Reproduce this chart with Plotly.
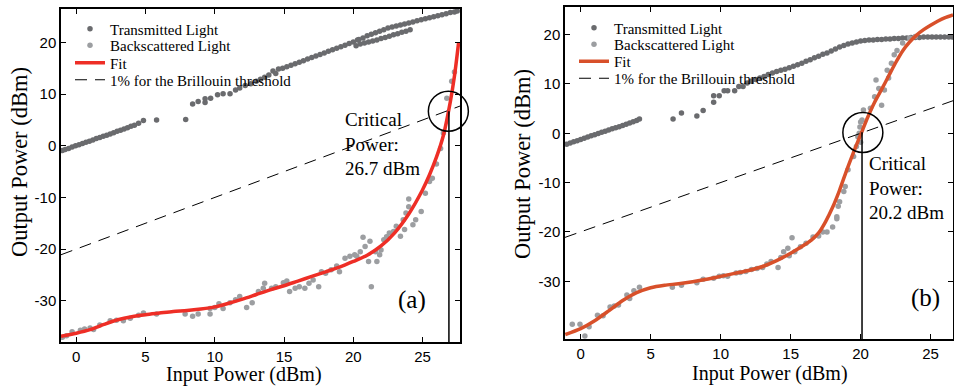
import plotly.graph_objects as go

# ---------------- Panel (a) data ----------------
trans_a_x = [-1.0,-0.8,-0.55,-0.3,-0.05,0.2,0.45,0.7,0.95,1.2,1.45,1.7,1.95,2.2,2.45,2.7,2.95,3.2,3.45,3.7,3.95,4.2,4.5,4.85,
             5.8,7.9,8.4,8.8,9.3,9.3,9.7,10.2,10.6,11.1,11.5,11.8,12.2,12.6,13.0,13.3,13.6,13.9,14.2,14.4,14.6,14.9,15.2,15.5,15.8,
             16.1,16.4,16.7,17.0,17.3,17.6,17.9,18.2,18.5,18.8,19.1,19.4,19.7,20.0,20.3,
             20.4,20.7,21.0,21.3,21.6,21.9,22.2,22.5,22.8,23.1,23.4,23.7,24.0,24.3,24.6,24.9,25.2,25.5,25.8,26.1,26.4,26.7,27.0,27.3,27.5,
             20.2,20.5,20.8,21.1,21.4,21.7,22.0,22.3,22.6,22.9,23.2,23.5,23.8,24.1]
trans_a_y = [-0.9,-0.7,-0.5,-0.25,0.0,0.2,0.45,0.7,0.9,1.15,1.4,1.6,1.85,2.05,2.3,2.55,2.8,3.0,3.25,3.5,3.8,4.0,4.35,4.9,
             5.0,5.1,8.1,8.6,8.4,9.1,9.2,9.9,10.1,10.1,10.8,11.2,11.7,12.0,12.5,12.9,13.3,13.7,14.5,14.0,14.9,15.0,15.3,15.6,15.9,
             16.2,16.5,16.8,17.1,17.4,17.7,18.0,18.3,18.6,18.9,19.2,19.5,19.8,20.1,20.5,
             20.6,20.9,21.3,21.6,21.9,22.2,22.5,22.8,23.0,23.2,23.4,23.6,23.8,24.0,24.2,24.4,24.6,24.8,25.0,25.2,25.4,25.6,25.8,25.9,26.1,
             19.4,19.7,19.9,20.1,20.3,20.5,20.8,21.0,21.2,21.5,21.7,22.0,22.2,22.5]

back_a_x = [-1.0,-0.7,-0.3,0.3,0.6,1.0,1.25,1.7,2.45,2.9,3.4,3.9,4.5,4.85,5.8,7.86,8.4,8.8,9.66,9.66,10.0,10.3,10.6,11.1,11.5,
            11.8,12.3,12.7,13.15,13.5,13.6,14.1,14.4,14.95,15.2,15.4,15.8,16.1,16.5,16.8,17.1,17.5,17.7,18.0,18.4,18.8,19.0,
            19.4,19.75,20.1,20.25,20.5,20.7,20.85,21.1,21.3,21.2,21.6,21.7,21.9,22.0,22.2,22.4,22.6,22.9,23.1,23.4,23.6,23.7,
            23.8,24.0,24.0,24.3,24.5,24.9,25.2,25.5,25.7,26.0,26.3,26.5,26.75,27.1,27.3]
back_a_y = [-37.1,-36.8,-36.0,-35.7,-35.5,-35.3,-35.6,-34.7,-33.9,-33.8,-33.9,-33.4,-32.8,-32.4,-32.6,-32.6,-33.0,-32.6,-32.6,-31.5,-31.3,-30.6,-31.5,-30.4,-29.8,
            -29.2,-31.3,-30.4,-28.2,-27.6,-26.6,-27.6,-27.3,-26.5,-26.2,-28.2,-27.6,-27.3,-27.6,-26.6,-26.0,-27.3,-24.4,-24.7,-24.0,-23.3,-24.4,
            -21.8,-21.4,-21.1,-21.4,-20.5,-17.7,-19.5,-22.4,-27.3,-18.5,-20.5,-22.4,-21.1,-20.2,-18.2,-17.6,-16.9,-16.6,-15.6,-17.5,-14.3,-16.2,
            -13.0,-11.8,-10.3,-15.3,-14.3,-12.7,-9.2,-6.9,-6.3,-3.5,-0.5,2.5,9.2,12.5,14.3]

fit_a_x = [-1.1,0,1,2,3,4,5,6,7,8,9,10,11,12,13,14,15,16,17,18,19,20,21,22,23,24,25,25.5,26,26.5,27,27.3,27.6]
fit_a_y = [-36.9,-36.3,-35.6,-34.6,-33.7,-33.1,-32.7,-32.4,-32.1,-31.9,-31.6,-31.2,-30.5,-29.7,-28.8,-27.9,-27.1,-26.2,-25.3,-24.4,-23.5,
           -22.4,-21.2,-19.4,-16.8,-13.2,-8.5,-5.6,-2.2,2.0,8.5,13.5,20.0]

thr_a_x = [-1.1, 27.7]
thr_a_y = [-21.1, 7.7]

crit_a_x = [26.9, 26.9]
crit_a_y = [6.7, -38.0]

# ---------------- Panel (b) data ----------------
trans_b_x = [-1.0,-0.75,-0.5,-0.25,0.0,0.25,0.5,0.75,1.0,1.25,1.5,1.75,2.0,2.25,2.5,2.75,3.0,3.25,3.5,3.75,4.0,4.2,
             6.6,7.2,8.3,8.75,9.5,9.5,9.9,10.25,10.5,11.0,11.3,11.6,11.9,12.2,12.5,12.8,13.1,13.4,13.7,14.0,14.3,14.6,14.9,15.2,
             15.5,15.8,16.1,16.4,16.7,17.0,17.3,17.6,17.9,18.2,18.5,18.8,19.1,19.4,19.7,20.0,20.3,20.6,20.9,21.2,21.5,21.8,
             22.1,22.4,22.7,23.0,23.3,23.6,23.9,24.2,24.5,24.8,25.1,25.4,25.7,26.0,26.3,26.55]
trans_b_y = [-2.2,-1.95,-1.7,-1.5,-1.25,-1.0,-0.75,-0.5,-0.3,-0.05,0.2,0.4,0.65,0.9,1.1,1.35,1.6,1.85,2.1,2.35,2.6,2.9,
             2.9,4.1,3.5,4.6,6.3,7.6,7.6,8.6,8.6,8.6,9.5,9.5,10.2,10.6,10.9,11.2,11.5,11.9,12.2,12.5,12.8,13.0,13.3,13.6,
             13.9,14.2,14.6,14.9,15.3,15.6,16.0,16.3,16.7,17.1,17.5,17.8,18.1,18.3,18.5,18.7,18.8,18.9,18.9,19.0,19.0,19.1,
             19.1,19.2,19.2,19.3,19.3,19.4,19.4,19.4,19.5,19.5,19.5,19.5,19.5,19.5,19.5,19.5]

back_b_x = [-0.6,-0.05,0.3,0.6,1.2,1.6,2.1,2.4,2.7,3.3,3.5,3.8,4.2,6.55,7.2,8.3,8.75,9.5,9.9,10.2,10.5,11.1,11.4,11.8,12.2,
            12.6,13.0,13.3,13.6,14.1,14.3,14.5,14.8,14.9,15.1,15.3,15.7,16.1,16.6,17.0,17.3,17.6,18.0,18.3,18.3,18.4,18.5,
            18.8,18.9,19.1,19.5,19.7,19.8,19.95,20.0,20.1,20.0,19.9,20.2,20.7,21.0,21.3,21.1,21.5,21.7,22.0,21.9,22.2,22.4,
            22.6,23.0,23.5,23.9]
back_b_y = [-38.7,-38.7,-41.1,-39.2,-36.9,-37.0,-35.2,-35.0,-34.8,-32.8,-33.5,-31.9,-31.2,-31.2,-30.8,-30.3,-29.6,-29.4,-29.0,-28.9,-29.0,-28.3,-28.2,-28.0,-27.6,
            -27.4,-27.2,-26.5,-26.0,-27.2,-25.2,-24.0,-23.3,-24.8,-21.2,-24.0,-23.0,-22.3,-21.0,-20.8,-20.0,-20.0,-19.0,-17.3,-16.9,-14.8,-13.9,
            -11.8,-10.8,-7.4,-4.7,-2.7,-0.7,1.3,2.3,2.7,-1.8,0.0,4.7,5.1,7.4,9.1,10.8,5.7,8.8,11.2,12.8,14.2,15.9,
            16.8,18.3,19.3,19.6]

fit_b_x = [-1.1,0,1,2,3,4,5,6,7,8,9,10,11,12,13,14,15,16,16.5,17,17.5,18,18.5,19,19.5,20,20.5,21,21.5,22,22.5,23,23.5,24,24.5,25,25.5,26,26.6]
fit_b_y = [-40.8,-39.6,-38.0,-36.0,-33.9,-32.3,-31.3,-30.8,-30.5,-30.1,-29.6,-29.0,-28.4,-27.8,-27.0,-25.8,-24.3,-22.6,-21.6,-20.2,-17.9,
           -15.0,-11.5,-7.5,-3.8,-0.3,3.2,6.3,8.9,11.6,14.3,16.7,18.5,19.9,21.0,21.9,22.7,23.4,24.0]

thr_b_x = [-1.12, 26.6]
thr_b_y = [-21.1, 6.6]

crit_b_x = [20.1, 20.1]
crit_b_y = [0.2, -41.7]

circle_a = ([26.86], [6.7])
circle_b = ([20.16], [0.16])

tick_x = [0, 5, 10, 15, 20, 25]
tick_x_text = ["0", "5", "10", "15", "20", "25"]
tick_y = [-30, -20, -10, 0, 10, 20]
tick_y_text = ["-30", "-20", "-10", "0", "10", "20"]

legend_names = ["Transmitted Light", "Backscattered Light", "Fit", "1% for the Brillouin threshold"]

# ---------------- styles ----------------
W, H = 954, 386
SERIF = "Liberation Serif, Times New Roman, serif"
SANS = "Liberation Sans, Arial, sans-serif"
C_TRANS = "#6a6b6e"
C_BACK = "#9c9ea1"
C_FIT_A = "#ee2e26"
C_FIT_B = "#d8502a"

fig = go.Figure()

def add_panel(xa, ya, legs, tx, ty, bx, by, fx, fy, fcol, thx, thy, cx, cy, circ):
    fig.add_trace(go.Scatter(x=tx, y=ty, mode="markers", name=legend_names[0],
                             marker=dict(color=C_TRANS, size=5.5), xaxis=xa, yaxis=ya, legend=legs[0]))
    fig.add_trace(go.Scatter(x=bx, y=by, mode="markers", name=legend_names[1],
                             marker=dict(color=C_BACK, size=5.5), xaxis=xa, yaxis=ya, legend=legs[1]))
    fig.add_trace(go.Scatter(x=fx, y=fy, mode="lines", name=legend_names[2],
                             line=dict(color=fcol, width=3.5, shape="spline", smoothing=0.8),
                             xaxis=xa, yaxis=ya, legend=legs[2]))
    fig.add_trace(go.Scatter(x=thx, y=thy, mode="lines", name=legend_names[3],
                             line=dict(color="black", width=1, dash="12px,8px"), xaxis=xa, yaxis=ya, legend=legs[3]))
    fig.add_trace(go.Scatter(x=cx, y=cy, mode="lines", showlegend=False, line=dict(color="black", width=1.5),
                             xaxis=xa, yaxis=ya, cliponaxis=False))
    fig.add_trace(go.Scatter(x=circ[0], y=circ[1], mode="markers", showlegend=False,
                             marker=dict(symbol="circle-open", size=40, color="black", line=dict(width=1.5)),
                             xaxis=xa, yaxis=ya, cliponaxis=False))

legs_a = ["legend", "legend2", "legend3", "legend4"]
legs_b = ["legend5", "legend6", "legend7", "legend8"]
add_panel("x", "y", legs_a, trans_a_x, trans_a_y, back_a_x, back_a_y, fit_a_x, fit_a_y, C_FIT_A,
          thr_a_x, thr_a_y, crit_a_x, crit_a_y, circle_a)
add_panel("x2", "y2", legs_b, trans_b_x, trans_b_y, back_b_x, back_b_y, fit_b_x, fit_b_y, C_FIT_B,
          thr_b_x, thr_b_y, crit_b_x, crit_b_y, circle_b)

axis_common = dict(showline=True, linecolor="black", linewidth=1.5, mirror="ticks", ticks="inside",
                   ticklen=5, tickwidth=1, tickcolor="black", showgrid=False, zeroline=False,
                   tickfont=dict(family=SANS, size=15, color="black"))

layout = dict(
    width=W, height=H, margin=dict(l=0, r=0, t=0, b=0),
    paper_bgcolor="white", plot_bgcolor="white", showlegend=True,
    xaxis=dict(domain=[61/W, 460/W], range=[-1.1, 27.7], tickvals=tick_x, ticktext=tick_x_text, anchor="y", **axis_common),
    yaxis=dict(domain=[1-342/H, 1-9/H], range=[-38.0, 26.5], tickvals=tick_y, ticktext=tick_y_text, anchor="x", **axis_common),
    xaxis2=dict(domain=[565/W, 953/W], range=[-1.12, 26.6], tickvals=tick_x, ticktext=tick_x_text, anchor="y2", **axis_common),
    yaxis2=dict(domain=[1-339/H, 1-7/H], range=[-41.7, 25.6], tickvals=tick_y, ticktext=tick_y_text, anchor="x2", **axis_common),
)
rows_a = [29, 45.5, 63, 80]
rows_b = [28, 44.5, 61.5, 78.5]
for name, row in zip(legs_a, rows_a):
    layout[name] = dict(x=70/W, y=1-row/H, xanchor="left", yanchor="middle", bgcolor="rgba(0,0,0,0)",
                        font=dict(family=SERIF, size=15, color="black"))
for name, row in zip(legs_b, rows_b):
    layout[name] = dict(x=574/W, y=1-row/H, xanchor="left", yanchor="middle", bgcolor="rgba(0,0,0,0)",
                        font=dict(family=SERIF, size=15, color="black"))
fig.update_layout(**layout)

ann = []
# axis titles
ann.append(dict(text="Input Power (dBm)", x=244/W, y=1-374/H, xref="paper", yref="paper", showarrow=False,
                font=dict(family=SERIF, size=20, color="black"), xanchor="center", yanchor="middle"))
ann.append(dict(text="Input Power (dBm)", x=770/W, y=1-373/H, xref="paper", yref="paper", showarrow=False,
                font=dict(family=SERIF, size=20, color="black"), xanchor="center", yanchor="middle"))
ann.append(dict(text="Output Power (dBm)", x=20/W, y=1-162/H, xref="paper", yref="paper", showarrow=False, textangle=-90,
                font=dict(family=SERIF, size=22.5, color="black"), xanchor="center", yanchor="middle"))
ann.append(dict(text="Output Power (dBm)", x=523/W, y=1-164/H, xref="paper", yref="paper", showarrow=False, textangle=-90,
                font=dict(family=SERIF, size=22.5, color="black"), xanchor="center", yanchor="middle"))
# critical power labels
ann.append(dict(text="Critical<br>Power:<br>26.7 dBm", x=19.25, y=7.6, xref="x", yref="y", showarrow=False, align="left",
                font=dict(family=SERIF, size=19, color="black"), xanchor="left", yanchor="top"))
ann.append(dict(text="Critical<br>Power:<br>20.2 dBm", x=20.45, y=-3.5, xref="x2", yref="y2", showarrow=False, align="left",
                font=dict(family=SERIF, size=19, color="black"), xanchor="left", yanchor="top"))
# panel labels
ann.append(dict(text="(a)", x=24.2, y=-29.8, xref="x", yref="y", showarrow=False,
                font=dict(family=SERIF, size=25, color="black"), xanchor="center", yanchor="middle"))
ann.append(dict(text="(b)", x=24.66, y=-33.4, xref="x2", yref="y2", showarrow=False,
                font=dict(family=SERIF, size=25, color="black"), xanchor="center", yanchor="middle"))
fig.update_layout(annotations=ann)

fig.write_html("out.html", config={"displayModeBar": False},
               post_script="document.body.style.margin='0';document.body.style.overflow='hidden';")
